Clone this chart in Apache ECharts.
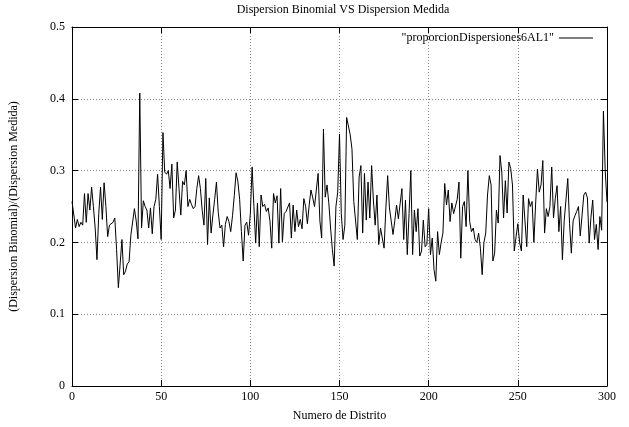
<!DOCTYPE html>
<html>
<head>
<meta charset="utf-8">
<script src="https://cdn.jsdelivr.net/npm/echarts@6/dist/echarts.min.js"></script>
<style>html,body{margin:0;padding:0;background:#fff}#c{width:629px;height:427px}</style>
</head>
<body>
<div id="c"></div>
<script>
var seriesName = '"proporcionDispersiones6AL1"';
var xTicks = [0, 50, 100, 150, 200, 250, 300];
var yTicks = [0, 0.1, 0.2, 0.3, 0.4, 0.5];
var values = [
0.257,0.255,0.22,0.232,0.222,0.228,0.224,0.268,0.228,0.268,
0.245,0.277,0.25,0.22,0.176,0.24,0.277,0.232,0.283,0.25,
0.208,0.224,0.222,0.228,0.234,0.19,0.137,0.17,0.204,0.155,
0.16,0.17,0.173,0.21,0.212,0.247,0.23,0.205,0.408,0.22,
0.258,0.25,0.245,0.22,0.248,0.212,0.25,0.26,0.295,0.25,
0.204,0.353,0.298,0.295,0.3,0.275,0.309,0.234,0.245,0.312,
0.275,0.238,0.285,0.28,0.3,0.25,0.26,0.253,0.247,0.25,
0.275,0.293,0.275,0.245,0.224,0.289,0.197,0.262,0.213,0.238,
0.26,0.284,0.242,0.22,0.224,0.194,0.225,0.236,0.229,0.215,
0.237,0.265,0.297,0.285,0.26,0.215,0.174,0.224,0.228,0.21,
0.24,0.305,0.25,0.199,0.255,0.194,0.266,0.25,0.253,0.243,
0.248,0.23,0.192,0.268,0.255,0.265,0.199,0.275,0.201,0.24,
0.243,0.245,0.255,0.206,0.252,0.215,0.245,0.222,0.232,0.219,
0.261,0.25,0.226,0.252,0.273,0.262,0.25,0.25,0.296,0.23,
0.206,0.358,0.263,0.28,0.255,0.22,0.19,0.167,0.25,0.27,
0.351,0.24,0.204,0.224,0.374,0.376,0.35,0.33,0.257,0.255,
0.204,0.291,0.307,0.213,0.296,0.231,0.284,0.234,0.307,0.259,
0.224,0.266,0.197,0.22,0.22,0.192,0.248,0.293,0.248,0.23,
0.211,0.23,0.252,0.233,0.231,0.275,0.204,0.259,0.183,0.24,
0.3,0.183,0.245,0.215,0.247,0.181,0.188,0.231,0.194,0.197,
0.247,0.183,0.206,0.162,0.146,0.215,0.183,0.2,0.213,0.282,
0.252,0.273,0.229,0.255,0.24,0.238,0.26,0.284,0.178,0.25,
0.257,0.222,0.3,0.229,0.215,0.22,0.204,0.2,0.213,0.192,
0.155,0.2,0.213,0.266,0.293,0.28,0.174,0.185,0.245,0.227,
0.321,0.298,0.234,0.286,0.241,0.312,0.303,0.28,0.188,0.208,
0.226,0.2,0.188,0.266,0.23,0.194,0.261,0.25,0.257,0.2,
0.255,0.302,0.27,0.28,0.314,0.213,0.247,0.236,0.25,0.305,
0.234,0.261,0.279,0.215,0.25,0.176,0.23,0.228,0.289,0.226,
0.185,0.23,0.237,0.243,0.25,0.209,0.209,0.266,0.27,0.262,
0.199,0.235,0.259,0.204,0.225,0.19,0.236,0.217,0.383,0.3,
0.256
];
var data = values.map(function (v, i) { return [i, v]; });

var font = 'Liberation Serif';
var chart = echarts.init(document.getElementById('c'), null, {renderer: 'canvas'});
var baseX = {
  type: 'value', min: 0, max: 300, interval: 50,
  axisLine: {show: true, onZero: false, lineStyle: {color: '#000', width: 1}},
  axisTick: {show: true, inside: true, length: 6, lineStyle: {color: '#000'}},
  splitLine: {show: false}
};
var baseY = {
  type: 'value', min: 0, max: 0.5, interval: 0.1,
  axisLine: {show: true, onZero: false, lineStyle: {color: '#000', width: 1}},
  axisTick: {show: true, inside: true, length: 6, lineStyle: {color: '#000'}},
  splitLine: {show: false}
};
chart.setOption({
  animation: false,
  backgroundColor: '#fff',
  title: {
    text: 'Dispersion Binomial VS Dispersion Medida',
    left: 338, textAlign: 'center', top: 0, padding: [4, 5, 5, 5],
    textStyle: {fontFamily: font, fontSize: 12, fontWeight: 'normal', color: '#000'}
  },
  legend: {
    right: 36, top: 32, align: 'right', itemWidth: 34, itemHeight: 12, itemGap: 8, padding: 0,
    textStyle: {fontFamily: font, fontSize: 12, color: '#000', padding: [0, 0, 0, 0]},
    data: [{name: seriesName, icon: 'path://M0,5.5L34,5.5L34,6.5L0,6.5Z'}],
    itemStyle: {color: '#000'}
  },
  grid: {left: 68, right: 22, top: 27, bottom: 40, containLabel: false},
  xAxis: [
    Object.assign({}, baseX, {
      position: 'bottom',
      name: 'Numero de Distrito', nameLocation: 'middle', nameGap: 24,
      nameTextStyle: {fontFamily: font, fontSize: 12, color: '#000'},
      axisLabel: {fontFamily: font, fontSize: 12, color: '#000', margin: 5,
        formatter: function (v) { return String(v); }},
      splitLine: {show: true, lineStyle: {color: '#888', type: [1, 2], width: 1}}
    }),
    Object.assign({}, baseX, {position: 'top', axisLabel: {show: false}})
  ],
  yAxis: [
    Object.assign({}, baseY, {
      position: 'left',
      name: '(Dispersion Binomial)/(Dispersion Medida)', nameLocation: 'middle', nameGap: 52,
      nameTextStyle: {fontFamily: font, fontSize: 12, color: '#000'},
      axisLabel: {fontFamily: font, fontSize: 12, color: '#000', margin: 7,
        formatter: function (v) { return String(Math.round(v * 10) / 10); }},
      splitLine: {show: true, lineStyle: {color: '#888', type: [1, 2], width: 1}}
    }),
    Object.assign({}, baseY, {position: 'right', axisLabel: {show: false}})
  ],
  series: [{
    name: seriesName,
    type: 'line',
    data: data,
    symbol: 'none',
    lineStyle: {color: '#000', width: 1},
    itemStyle: {color: '#000'},
    xAxisIndex: 0, yAxisIndex: 0
  }]
});
</script>
</body>
</html>
